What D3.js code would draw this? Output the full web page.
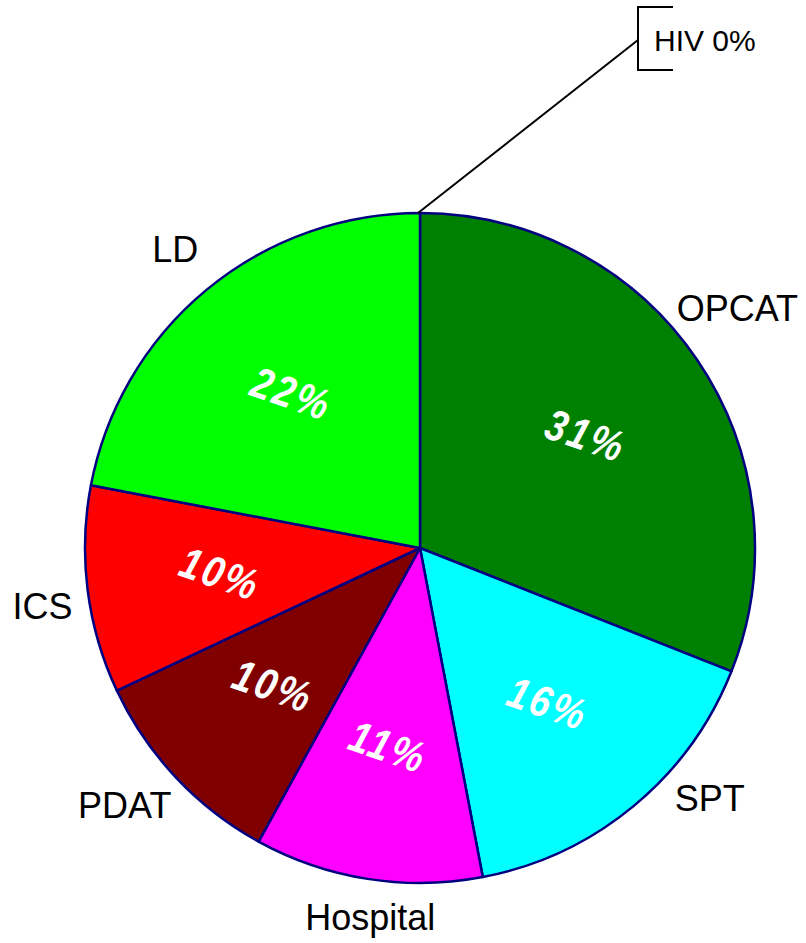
<!DOCTYPE html>
<html>
<head>
<meta charset="utf-8">
<script src="https://cdn.jsdelivr.net/npm/d3@7"></script>
<style>
  body { margin: 0; background: #fff; }
  text { font-family: "Liberation Sans", Arial, sans-serif; }
</style>
</head>
<body>
<div id="my_dataviz"></div>
<script>
// data, clockwise from 12 o'clock
const categories = ["HIV", "OPCAT", "SPT", "Hospital", "PDAT", "ICS", "LD"];
const shares = [0, 31, 16, 11, 10, 10, 22];
const sliceColors = ["#ff8000", "#008000", "#00ffff", "#ff00ff", "#800000", "#ff0000", "#00ff00"];

let width = 806;
let height = 943;
let cx = 420, cy = 548, radius = 335;

// small nudges so the outer labels sit where the original put them
const labelNudge = {
  OPCAT: [-4, -22],
  SPT: [42, -49],
  Hospital: [11, -15],
  PDAT: [-12, -9],
  ICS: [8, 9],
  LD: [3, 0]
};

var svg = d3
  .select("#my_dataviz")
  .append("svg")
  .attr("width", width)
  .attr("height", height)
  .append("g")
  .attr("transform", "translate(" + cx + "," + cy + ")");

const data = categories.map((c, i) => ({ name: c, value: shares[i], color: sliceColors[i] }));

let pie = d3.pie().sort(null).value(d => d.value);
let arcs = pie(data);

let arc = d3.arc().innerRadius(0).outerRadius(radius);
let innerLabelArc = d3.arc().innerRadius(radius * 0.6).outerRadius(radius * 0.6);
let outerLabelArc = d3.arc().innerRadius(radius * 1.16).outerRadius(radius * 1.16);

// slices
svg
  .selectAll("path.slice")
  .data(arcs.filter(d => d.data.value > 0))
  .enter()
  .append("path")
  .attr("class", "slice")
  .attr("d", arc)
  .style("fill", d => d.data.color)
  .style("stroke", "#000080")
  .style("stroke-width", 2.5)
  .style("stroke-linejoin", "round");

// percentages inside the slices
svg
  .selectAll("text.pct")
  .data(arcs.filter(d => d.data.value > 0))
  .enter()
  .append("text")
  .attr("class", "pct")
  .attr("transform", function(d) {
    let c = innerLabelArc.centroid(d);
    return "translate(" + c[0] + "," + c[1] + ") rotate(19) scale(0.92,1.1)";
  })
  .attr("text-anchor", "middle")
  .attr("dy", "0.36em")
  .style("font-size", "40px")
  .style("font-weight", "bold")
  .style("font-style", "italic")
  .style("letter-spacing", "3px")
  .style("fill", "#fff")
  .text(d => d.data.value + "%");

// category names outside
svg
  .selectAll("text.name")
  .data(arcs.filter(d => d.data.value > 0))
  .enter()
  .append("text")
  .attr("class", "name")
  .attr("transform", function(d) {
    let c = outerLabelArc.centroid(d);
    let n = labelNudge[d.data.name] || [0, 0];
    return "translate(" + (c[0] + n[0]) + "," + (c[1] + n[1]) + ")";
  })
  .attr("text-anchor", "middle")
  .attr("dy", "0.36em")
  .style("font-size", "36px")
  .style("fill", "#000")
  .text(d => d.data.name);

// the zero slice gets a leader line and a bracketed label
let zero = arcs.find(d => d.data.value === 0);
let edge = [radius * Math.sin(zero.startAngle), -radius * Math.cos(zero.startAngle)];
let boxAt = [edge[0] + 218, edge[1] - 173];

svg
  .append("line")
  .attr("x1", edge[0] - 2)
  .attr("y1", edge[1])
  .attr("x2", boxAt[0])
  .attr("y2", boxAt[1])
  .style("stroke", "#000")
  .style("stroke-width", 2);

svg
  .append("path")
  .attr("d", d3.line()([
    [boxAt[0] + 35, boxAt[1] - 33],
    [boxAt[0], boxAt[1] - 33],
    [boxAt[0], boxAt[1] + 30],
    [boxAt[0] + 35, boxAt[1] + 30]
  ]))
  .style("fill", "none")
  .style("stroke", "#000")
  .style("stroke-width", 2);

svg
  .append("text")
  .attr("x", boxAt[0] + 16)
  .attr("y", boxAt[1])
  .attr("dy", "0.36em")
  .style("font-size", "30px")
  .style("fill", "#000")
  .text(zero.data.name + " " + zero.data.value + "%");
</script>
</body>
</html>
